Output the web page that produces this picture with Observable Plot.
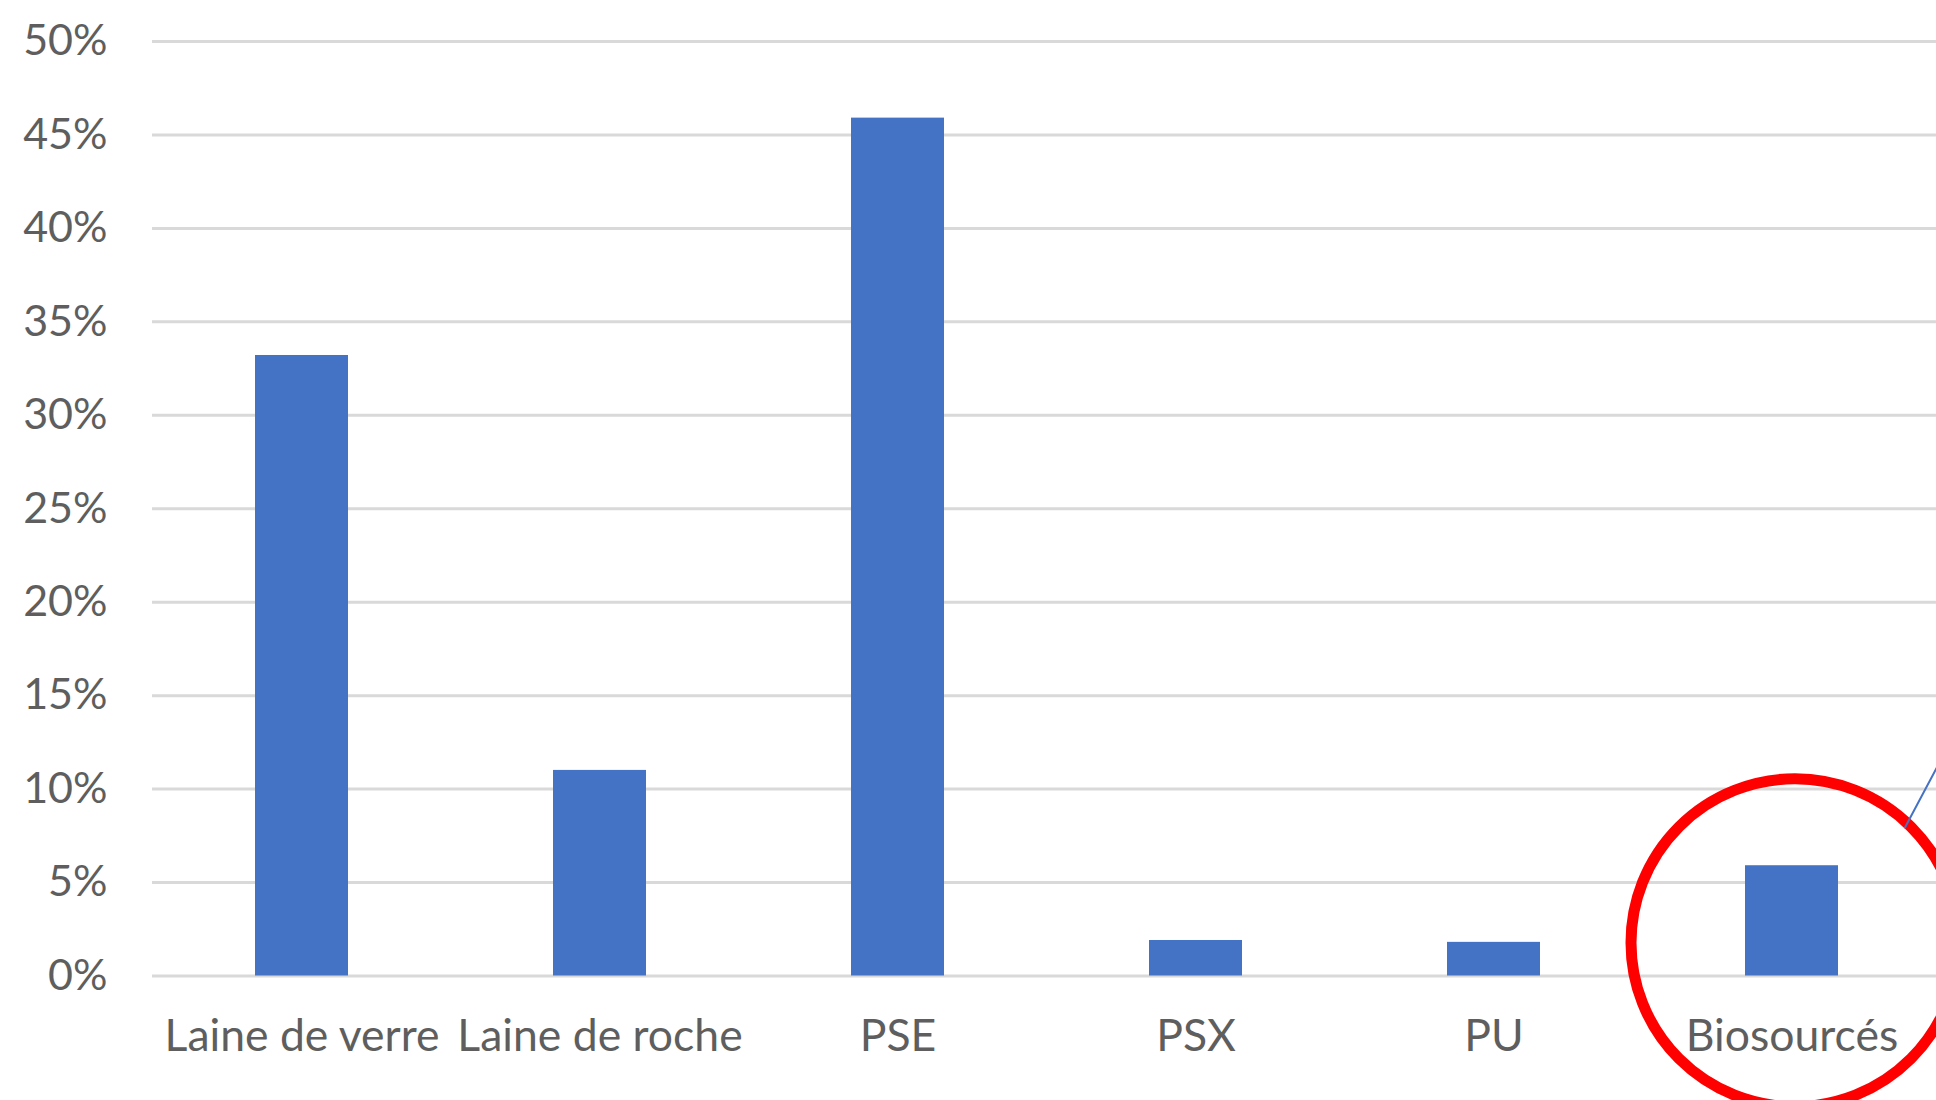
<!DOCTYPE html>
<html>
<head>
<meta charset="utf-8">
<script src="https://cdn.jsdelivr.net/npm/d3@7"></script>
<script src="https://cdn.jsdelivr.net/npm/@observablehq/plot@0.6"></script>
<style>
  html, body { margin: 0; padding: 0; background: #fff; overflow: hidden; }
  #chart svg { overflow: hidden; display: block; }
</style>
</head>
<body>
<div id="chart"></div>
<script>
const categories = ["Laine de verre", "Laine de roche", "PSE", "PSX", "PU", "Biosourcés"];
const shares = [0.332, 0.110, 0.459, 0.019, 0.018, 0.059];
const yTicks = [0, 0.05, 0.10, 0.15, 0.20, 0.25, 0.30, 0.35, 0.40, 0.45, 0.50];
const highlight = [{category: "Biosourcés", y: 0.0178}];
const pointer = [{category: "Biosourcés", y: 0.0795}];

const data = categories.map((c, i) => ({category: c, value: shares[i]}));

const chart = Plot.plot({
  width: 1936,
  height: 1100,
  marginLeft: 152,
  marginRight: 0,
  marginTop: 41,
  marginBottom: 124.5,
  style: {fontFamily: "Lato, 'Open Sans', sans-serif", fontSize: "43px", color: "#5e5e5e", background: "#fff"},
  x: {domain: categories, range: [152, 1941], paddingInner: 0.688, paddingOuter: 0.344, label: null},
  y: {domain: [0, 0.5], label: null},
  marks: [
    Plot.ruleY(yTicks, {stroke: "#d9d9d9", strokeWidth: 3}),
    Plot.barY(data, {x: "category", y: "value", fill: "#4472C4"}),
    Plot.axisY({ticks: yTicks, tickFormat: d3.format(".0%"), tickSize: 0, tickPadding: 45, fill: "#5e5e5e", fontSize: 43, label: null}),
    Plot.axisX({tickSize: 0, tickPadding: 43, fill: "#5e5e5e", fontSize: 44.5, label: null}),
    Plot.dot(highlight, {x: "category", y: "y", dx: 3, r: 164, stroke: "#ff0000", strokeWidth: 11, fill: "none"}),
    Plot.vector(pointer, {x: "category", y: "y", dx: 113, length: 160, rotate: 28, anchor: "start", r: 0, stroke: "#4472C4", strokeWidth: 2})
  ]
});
document.getElementById("chart").append(chart);
</script>
</body>
</html>
